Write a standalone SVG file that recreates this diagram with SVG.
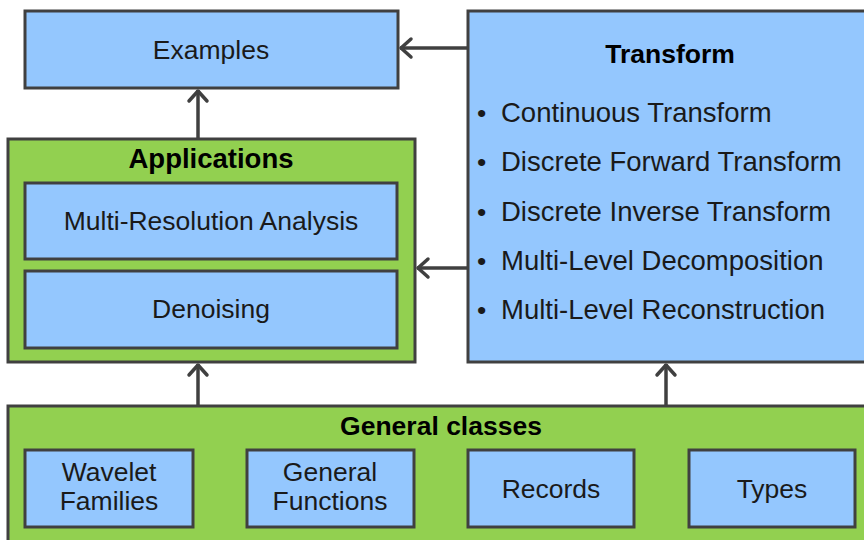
<svg xmlns="http://www.w3.org/2000/svg" width="864" height="540" viewBox="0 0 864 540">
<defs>
<style>
.b{fill:#94C7FE;stroke:#404040;stroke-width:3}
.g{fill:#92D050;stroke:#404040;stroke-width:3}
text{font-family:"Liberation Sans",Arial,sans-serif;font-size:26.5px;fill:#1a1a1a}
.c{text-anchor:middle}
.t{font-weight:bold;fill:#000}
.i{font-size:27.5px}
.e{stroke:#404040;stroke-width:3.5;fill:none}
</style>
<marker id="ah" markerUnits="userSpaceOnUse" viewBox="-14 -12 16 24" refX="0" refY="0" markerWidth="16" markerHeight="24" orient="auto">
<path d="M-11,-9 L-1,0 L-11,9" fill="none" stroke="#404040" stroke-width="3.5" stroke-linecap="round" stroke-linejoin="round"/>
</marker>
</defs>
<rect width="864" height="540" fill="#fff"/>
<g id="transform">
<rect class="b" x="468" y="11" width="410" height="351"/>
<text class="c t" x="670" y="63">Transform</text>
<text x="477" y="122">•</text><text class="i" x="501" y="122">Continuous Transform</text>
<text x="477" y="171">•</text><text class="i" x="501" y="171">Discrete Forward Transform</text>
<text x="477" y="221">•</text><text class="i" x="501" y="221">Discrete Inverse Transform</text>
<text x="477" y="270">•</text><text class="i" x="501" y="270">Multi-Level Decomposition</text>
<text x="477" y="319">•</text><text class="i" x="501" y="319">Multi-Level Reconstruction</text>
</g>
<g id="examples">
<rect class="b" x="25" y="11" width="373" height="77"/>
<text class="c" x="211" y="59">Examples</text>
</g>
<g id="applications">
<rect class="g" x="8" y="139" width="407" height="223"/>
<text class="c t i" x="211" y="168">Applications</text>
</g>
<g id="mra">
<rect class="b" x="25" y="183" width="372" height="76"/>
<text class="c" x="211" y="230" font-size="27.5">Multi-Resolution Analysis</text>
</g>
<g id="denoising">
<rect class="b" x="25" y="271" width="372" height="77"/>
<text class="c" x="211" y="318" font-size="27.5">Denoising</text>
</g>
<g id="general">
<rect class="g" x="8" y="406" width="880" height="160"/>
<text class="c t" x="441" y="435">General classes</text>
</g>
<g id="wavelet">
<rect class="b" x="25" y="450" width="168" height="77"/>
<text class="c" x="109" y="481">Wavelet</text>
<text class="c" x="109" y="510">Families</text>
</g>
<g id="functions">
<rect class="b" x="247" y="450" width="167" height="77"/>
<text class="c" x="330" y="481">General</text>
<text class="c" x="330" y="510">Functions</text>
</g>
<g id="records">
<rect class="b" x="468" y="450" width="166" height="77"/>
<text class="c" x="551" y="498">Records</text>
</g>
<g id="types">
<rect class="b" x="689" y="450" width="166" height="77"/>
<text class="c" x="772" y="498">Types</text>
</g>
<g id="connectors">
<line class="e" x1="468" y1="48" x2="400" y2="48" marker-end="url(#ah)"/>
<line class="e" x1="468" y1="268" x2="417" y2="268" marker-end="url(#ah)"/>
<line class="e" x1="198" y1="139" x2="198" y2="90" marker-end="url(#ah)"/>
<line class="e" x1="198" y1="406" x2="198" y2="364" marker-end="url(#ah)"/>
<line class="e" x1="666" y1="406" x2="666" y2="364" marker-end="url(#ah)"/>
</g>
</svg>
